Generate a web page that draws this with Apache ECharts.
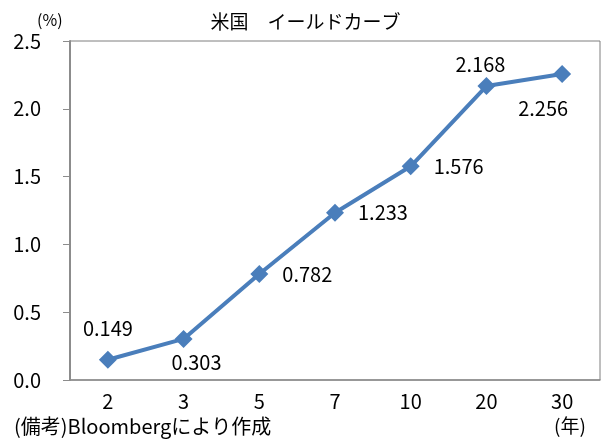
<!DOCTYPE html>
<html><head><meta charset="utf-8">
<script src="https://cdn.jsdelivr.net/npm/echarts@6/dist/echarts.min.js"></script>
<style>html,body{margin:0;padding:0;background:#fff}#c{width:611px;height:445px}</style>
</head><body><div id="c"></div>
<script>
const titleText = '米国　イールドカーブ';
const categories = ['2', '3', '5', '7', '10', '20', '30'];
const yields = [0.149, 0.303, 0.782, 1.233, 1.576, 2.168, 2.256];
const labelPlacement = ['top', 'bottomRight', 'right', 'right', 'right', 'topLeft', 'bottomLeft'];
const yTicks = { min: 0, max: 2.5, interval: 0.5 };
const unitY = '(%)';
const unitX = '(年)';
const note = '(備考)Bloombergにより作成';

const FONT = "'Noto Sans CJK JP',sans-serif";

function labelFor(p) {
  const base = { show: true, fontSize: 20, color: '#000', fontFamily: FONT,
    formatter: (d) => d.value.toFixed(3) };
  switch (p) {
    case 'top': return Object.assign(base, { position: 'top', distance: 12 });
    case 'bottomRight': return Object.assign(base, { position: 'bottom', distance: 4, offset: [13, 0] });
    case 'right': return Object.assign(base, { position: 'right', distance: 14 });
    case 'topLeft': return Object.assign(base, { position: 'top', distance: 3, offset: [-6, 0] });
    case 'bottomLeft': return Object.assign(base, { position: 'bottom', distance: 15, offset: [-19, 0] });
  }
}

const chart = echarts.init(document.getElementById('c'), null, { renderer: 'canvas' });
chart.setOption({
  animation: false,
  backgroundColor: '#fff',
  title: { text: titleText, left: 'center', top: 7,
    textStyle: { fontSize: 19, fontWeight: 'normal', color: '#000', fontFamily: FONT } },
  grid: { left: 70, right: 11, top: 41, bottom: 65, show: true, borderColor: '#7f7f7f', borderWidth: 1 },
  xAxis: {
    type: 'category', data: categories, boundaryGap: true,
    axisLine: { lineStyle: { color: '#8c8c8c', width: 1.5 } },
    axisTick: { show: false },
    axisLabel: { fontSize: 20, color: '#000', margin: 11, fontFamily: FONT }
  },
  yAxis: {
    type: 'value', min: yTicks.min, max: yTicks.max, interval: yTicks.interval,
    splitLine: { show: false },
    axisLine: { show: true, lineStyle: { color: '#8c8c8c', width: 2 } },
    axisTick: { show: true, length: 7, lineStyle: { color: '#8c8c8c' } },
    axisLabel: { fontSize: 20, color: '#000', margin: 29, fontFamily: FONT,
      formatter: (v) => v.toFixed(1) }
  },
  graphic: [
    { type: 'text', left: 37, top: 12, style: { text: unitY, fill: '#000', font: '16px ' + FONT } },
    { type: 'text', left: 554, top: 416, style: { text: unitX, fill: '#000', font: '19px ' + FONT } },
    { type: 'text', left: 14, top: 416, style: { text: note, fill: '#000', font: '20px ' + FONT } }
  ],
  series: [{
    type: 'line', data: yields.map((v, i) => ({ value: v, label: labelFor(labelPlacement[i]) })),
    symbol: 'diamond', symbolSize: 18,
    lineStyle: { color: '#4a7ebb', width: 4 },
    itemStyle: { color: '#4a7ebb' }
  }]
});
</script></body></html>
